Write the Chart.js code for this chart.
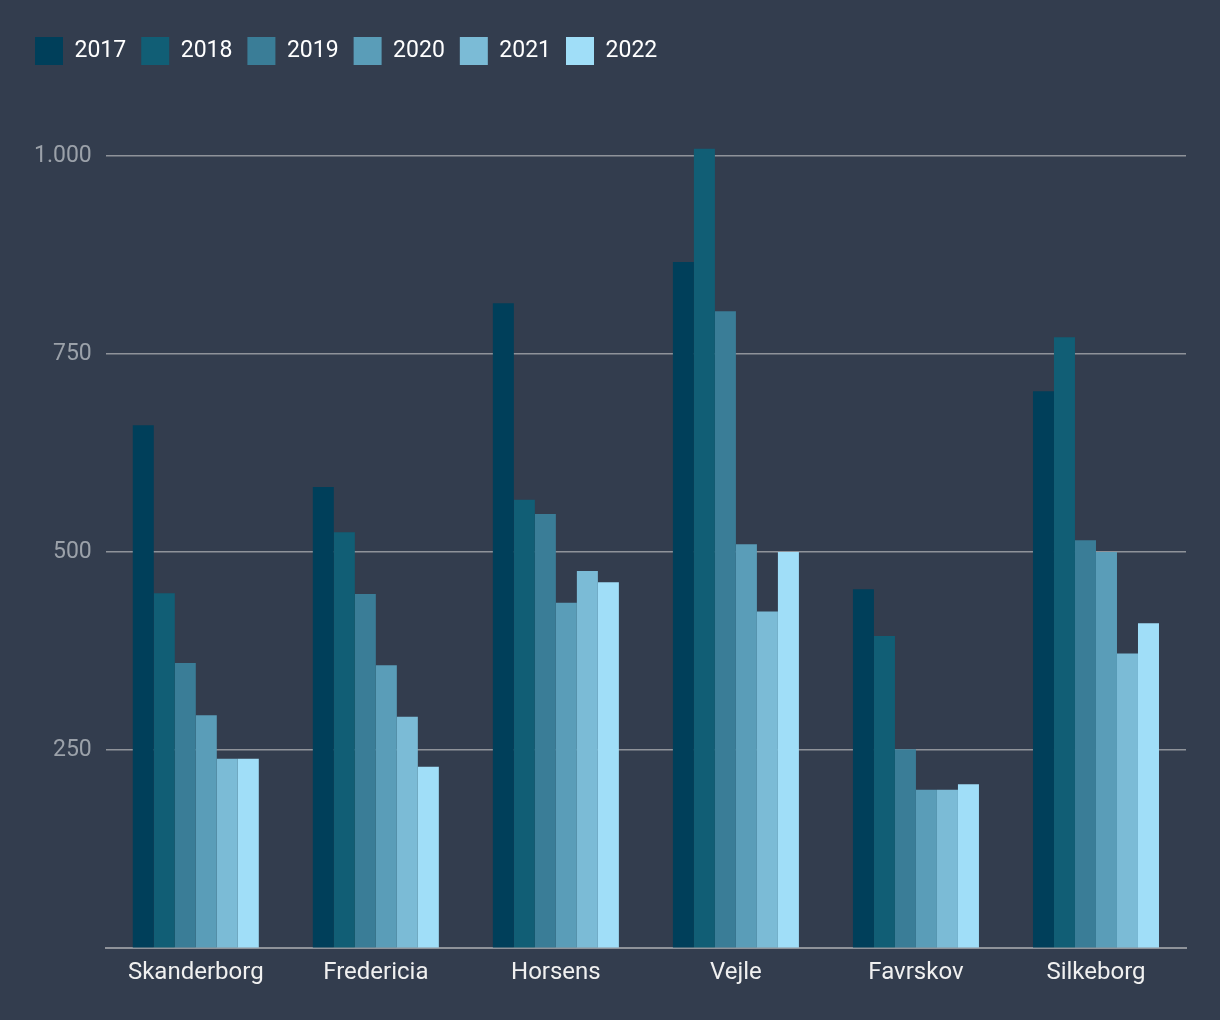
<!DOCTYPE html>
<html>
<head>
<meta charset="utf-8">
<script src="https://cdn.jsdelivr.net/npm/chart.js@4.4.0/dist/chart.umd.min.js"></script>
<style>
  html, body { margin: 0; padding: 0; background: #333d4e; }
  #wrap { width: 1220px; height: 1020px; }
</style>
</head>
<body>
<div id="wrap"><canvas id="chart"></canvas></div>
<script>
const kommuner = ['Skanderborg', 'Fredericia', 'Horsens', 'Vejle', 'Favrskov', 'Silkeborg'];
const years = ['2017', '2018', '2019', '2020', '2021', '2022'];
const colors = ['#003f5a', '#115e75', '#3a7d97', '#5a9db8', '#7bbbd6', '#a0def8'];

const v2017 = [660, 582, 814, 866, 453, 703];
const v2018 = [448, 525, 566, 1009, 394, 771];
const v2019 = [360, 447, 548, 804, 251, 515];
const v2020 = [294, 357, 436, 510, 200, 500];
const v2021 = [239, 292, 476, 425, 200, 372];
const v2022 = [239, 229, 462, 500, 207, 410];
const series = [v2017, v2018, v2019, v2020, v2021, v2022];

const yTicks = [0, 250, 500, 750, 1000];

Chart.defaults.font.family = 'Roboto';

// push the plot area down below the legend
const legendGap = {
    id: 'legendGap',
    beforeInit(chart) {
        const fit = chart.legend.fit;
        chart.legend.fit = function () {
            fit.bind(chart.legend)();
            this.height += 73;
        };
    }
};

new Chart(document.getElementById('chart'), {
    type: 'bar',
    data: {
        labels: kommuner,
        datasets: years.map((y, i) => ({
            label: y,
            data: series[i],
            backgroundColor: colors[i],
            borderWidth: 0,
            categoryPercentage: 0.7,
            barPercentage: 1.0
        }))
    },
    options: {
        responsive: true,
        maintainAspectRatio: false,
        animation: false,
        layout: { padding: { left: 20, right: 34, top: 22, bottom: 31 } },
        plugins: {
            tooltip: { enabled: false },
            legend: {
                position: 'top',
                align: 'start',
                labels: {
                    color: '#ffffff',
                    boxWidth: 28,
                    boxHeight: 28,
                    padding: 15,
                    font: { size: 23 }
                }
            }
        },
        scales: {
            x: {
                grid: { display: false },
                border: { color: '#8f939a', width: 2 },
                ticks: { color: '#f0f0f0', font: { size: 24 }, padding: 2 }
            },
            y: {
                min: 0,
                max: 1010,
                afterBuildTicks: scale => {
                    scale.ticks = yTicks.map(v => ({ value: v }));
                },
                border: { display: false },
                grid: { color: '#8f939a', lineWidth: 1.5, drawTicks: false },
                ticks: {
                    color: '#9ba1a9',
                    font: { size: 23 },
                    padding: 14,
                    callback: v => v === 0 ? '' : v.toLocaleString('da-DK')
                }
            }
        }
    },
    plugins: [legendGap]
});
</script>
</body>
</html>
